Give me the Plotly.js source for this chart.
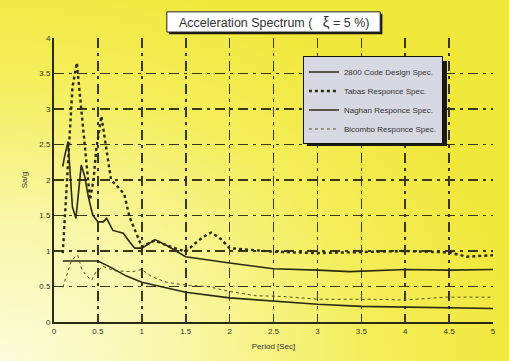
<!DOCTYPE html>
<html>
<head>
<meta charset="utf-8">
<script src="https://cdn.plot.ly/plotly-3.0.1.min.js"></script>
<style>
html,body{margin:0;padding:0;}
body{width:509px;height:361px;overflow:hidden;
background: radial-gradient(ellipse 120% 130% at 0% 100%, #fcfcdc 0%, #f9f7a8 30%, #f4ee5c 60%, #f1e83c 85%);}
#chart{width:509px;height:361px;}
</style>
</head>
<body>
<div id="chart"></div>
<script>
// Period [Sec] and Sa/g values
const codeT  = [0.1, 0.5, 0.63, 0.82, 1.0, 1.28, 1.5, 2.0, 2.34, 2.5, 3.0, 3.5, 4.0, 4.5, 5.0];
const codeSa = [0.86, 0.86, 0.78, 0.65, 0.56, 0.48, 0.42, 0.34, 0.31, 0.29, 0.25, 0.22, 0.21, 0.19, 0.19];

const tabasT  = [0.1, 0.13, 0.17, 0.21, 0.26, 0.31, 0.37, 0.41, 0.45, 0.48, 0.54, 0.6, 0.65, 0.73, 0.8, 0.86, 0.94, 1.0, 1.15, 1.28, 1.4, 1.5, 1.6, 1.7, 1.79, 1.9, 2.0, 2.2, 2.5, 3.0, 3.5, 4.0, 4.5, 4.7, 5.0];
const tabasSa = [0.97, 1.6, 2.6, 3.3, 3.65, 3.0, 2.2, 1.72, 2.0, 2.42, 2.9, 2.42, 2.0, 1.9, 1.8, 1.48, 1.25, 1.06, 1.15, 1.08, 1.03, 0.99, 1.1, 1.2, 1.26, 1.17, 1.04, 1.02, 0.99, 0.97, 0.99, 1.0, 0.98, 0.92, 0.94];

const naghanT  = [0.1, 0.12, 0.16, 0.19, 0.21, 0.25, 0.28, 0.31, 0.35, 0.39, 0.44, 0.5, 0.56, 0.6, 0.67, 0.79, 0.86, 0.92, 1.0, 1.15, 1.28, 1.5, 2.0, 2.34, 2.5, 3.0, 3.37, 4.0, 4.5, 5.0];
const naghanSa = [2.19, 2.33, 2.54, 2.0, 1.62, 1.46, 1.86, 2.21, 2.05, 1.77, 1.51, 1.41, 1.41, 1.46, 1.29, 1.25, 1.13, 1.04, 1.04, 1.16, 1.08, 0.92, 0.83, 0.77, 0.75, 0.73, 0.71, 0.74, 0.73, 0.74];

const bicomboT  = [0.1, 0.14, 0.2, 0.27, 0.32, 0.38, 0.43, 0.48, 0.56, 0.7, 0.9, 1.0, 1.11, 1.28, 1.5, 1.75, 2.0, 2.3, 2.6, 2.8, 3.03, 3.63, 4.0, 4.47, 5.0];
const bicomboSa = [0.49, 0.64, 0.87, 0.94, 0.73, 0.64, 0.59, 0.71, 0.78, 0.72, 0.71, 0.74, 0.64, 0.56, 0.52, 0.5, 0.43, 0.37, 0.36, 0.34, 0.32, 0.32, 0.31, 0.35, 0.35];

const seriesNames = ['2800 Code Design Spec.', 'Tabas Responce Spec.', 'Naghan Responce Spec.', 'Bicombo Responce Spec.'];
const xTicks = [0, 0.5, 1, 1.5, 2, 2.5, 3, 3.5, 4, 4.5, 5];
const xTickText = ['0', '0.5', '1', '1.5', '2', '2.5', '3', '3.5', '4', '4.5', '5'];
const yTicks = [0, 0.5, 1, 1.5, 2, 2.5, 3, 3.5, 4];
const yTickText = ['0', '0.5', '1', '1.5', '2', '2.5', '3', '3.5', '4'];

const ink = '#2b2a14';
const traces = [
  {x: codeT, y: codeSa, name: seriesNames[0], mode: 'lines', line: {color: ink, width: 1.6}},
  {x: tabasT, y: tabasSa, name: seriesNames[1], mode: 'lines', line: {color: ink, width: 2.4, dash: 'dot'}},
  {x: naghanT, y: naghanSa, name: seriesNames[2], mode: 'lines', line: {color: ink, width: 1.6}},
  {x: bicomboT, y: bicomboSa, name: seriesNames[3], mode: 'lines', line: {color: '#55531e', width: 1, dash: 'dot'}}
];

const gridStyle = {gridcolor: '#3a3818', gridwidth: 1.6, griddash: '10px,5px,3px,5px'};
const layout = {
  width: 509, height: 361,
  margin: {l: 54, r: 16, t: 38, b: 39},
  paper_bgcolor: 'rgba(0,0,0,0)',
  plot_bgcolor: 'rgba(0,0,0,0)',
  font: {family: 'Liberation Sans, Arial, sans-serif', color: '#222', size: 8},
  showlegend: true,
  legend: {
    x: 0.567, y: 0.935, xanchor: 'left', yanchor: 'top',
    bgcolor: '#d8d8e2', bordercolor: '#111', borderwidth: 1,
    font: {size: 8, color: '#333'}, tracegroupgap: 0, itemwidth: 30
  },
  xaxis: Object.assign({
    range: [0, 5], tickvals: xTicks, ticktext: xTickText,
    showline: true, linecolor: ink, linewidth: 2, zeroline: false,
    ticks: '', tickfont: {size: 8, color: '#333'},
    title: {text: 'Period [Sec]', font: {size: 8, color: '#333'}, standoff: 9}
  }, gridStyle),
  yaxis: Object.assign({
    range: [0, 4], tickvals: yTicks, ticktext: yTickText,
    showline: true, linecolor: ink, linewidth: 2, zeroline: false,
    ticks: '', tickfont: {size: 8, color: '#333'},
    title: {text: 'Sa/g', font: {size: 8, color: '#333'}, standoff: 10}
  }, gridStyle),
  shapes: [
    // legend drop shadow
    {type: 'rect', xref: 'paper', yref: 'paper', x0: 0.576, x1: 0.8952, y0: 0.620, y1: 0.919,
     fillcolor: '#1a1a10', line: {width: 0}, layer: 'above'},
    // title box shadow + box
    {type: 'rect', xref: 'paper', yref: 'paper', x0: 0.262, x1: 0.748, y0: 1.013, y1: 1.085,
     fillcolor: '#1a1a10', line: {width: 0}, layer: 'above'},
    {type: 'rect', xref: 'paper', yref: 'paper', x0: 0.257, x1: 0.743, y0: 1.021, y1: 1.092,
     fillcolor: '#ffffff', line: {color: '#222', width: 1}, layer: 'above'}
  ],
  annotations: [
    {text: 'Acceleration Spectrum (   <span style="font-size:15px">ξ</span> = 5 %)', xref: 'paper', yref: 'paper', x: 0.5, y: 1.057,
     xanchor: 'center', yanchor: 'middle', showarrow: false,
     font: {size: 12.5, color: '#333'}}
  ]
};
Plotly.newPlot('chart', traces, layout, {displayModeBar: false, staticPlot: true});
</script>
</body>
</html>
